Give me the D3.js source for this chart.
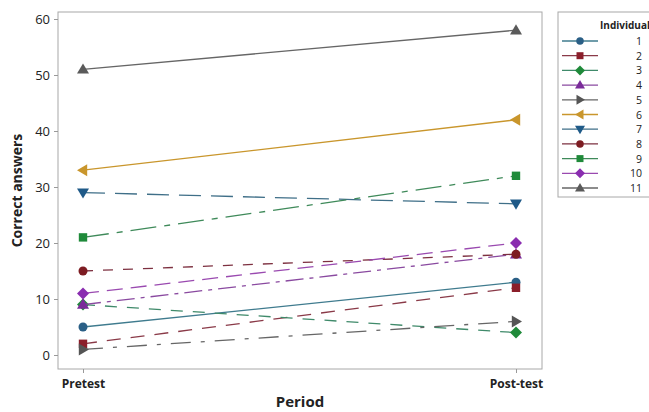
<!DOCTYPE html>
<html>
<head>
<meta charset="utf-8">
<script src="https://cdn.jsdelivr.net/npm/d3@7"></script>
<style>
  body { margin: 0; background: #fff; }
  text { font-family: "Open Sans", "DejaVu Sans", sans-serif; }
</style>
</head>
<body>
<svg id="chart" width="649" height="412"></svg>
<script>
const periods = ['Pretest', 'Post-test'];
const individuals = ['1', '2', '3', '4', '5', '6', '7', '8', '9', '10', '11'];
const pretest = [5, 2, 9, 9, 1, 33, 29, 15, 21, 11, 51];
const posttest = [13, 12, 4, 18, 6, 42, 27, 18, 32, 20, 58];
const yTicks = [0, 10, 20, 30, 40, 50, 60];

const colors = ['#2a5f86', '#8b1e2a', '#1f8a3a', '#7a2b9a', '#555555', '#c9962c',
                '#1f5a88', '#7d1c22', '#1f8a3a', '#8a2db0', '#5a5a5a'];
const lineColors = ['#3f7b8e', '#8a3a48', '#3f8a6a', '#8a4aa0', '#666666', '#c9962c',
                    '#3f6f88', '#7d3040', '#3f8a5a', '#9a4ab0', '#666666'];
const dashes = [null, '14,10', '12,10', '18,6,4,6', '20,10,4,10', null,
                '22,10', '10,10', '26,8,6,8', '16,8', null];
const shapes = ['circle', 'square', 'diamond', 'tri-up', 'tri-right', 'tri-left',
                'tri-down', 'circle', 'square', 'diamond', 'tri-up'];

const svg = d3.select('#chart');
const margin = {top: 12, right: 107, bottom: 43, left: 58};
const width = 649, height = 412;
const innerW = width - margin.left - margin.right;
const innerH = height - margin.top - margin.bottom;

const g = svg.append('g').attr('transform', `translate(${margin.left},${margin.top})`);

const x = d3.scalePoint().domain(periods).range([25, innerW - 26]);
const y = d3.scaleLinear().domain([0, 60]).range([343, 7]);

g.append('rect')
  .attr('width', innerW).attr('height', innerH)
  .attr('fill', 'none').attr('stroke', '#a8a8a8');

const yAxis = g.append('g').call(d3.axisLeft(y).tickValues(yTicks).tickSize(4).tickPadding(4));
yAxis.select('.domain').remove();
yAxis.selectAll('line').attr('stroke', '#999');
yAxis.selectAll('text').attr('font-size', 13).attr('fill', '#222');

const xAxis = g.append('g').attr('transform', `translate(0,${innerH})`)
  .call(d3.axisBottom(x).tickSize(4).tickPadding(6));
xAxis.select('.domain').remove();
xAxis.selectAll('line').attr('stroke', '#999');
xAxis.selectAll('text').attr('font-size', 12).attr('font-weight', 'bold').attr('fill', '#222');

svg.append('text')
  .attr('transform', `translate(22,${margin.top + innerH / 2}) rotate(-90)`)
  .attr('text-anchor', 'middle').attr('font-size', 14).attr('font-weight', 'bold')
  .attr('fill', '#222').text('Correct answers');

svg.append('text')
  .attr('x', margin.left + innerW / 2).attr('y', 407)
  .attr('text-anchor', 'middle').attr('font-size', 15).attr('font-weight', 'bold')
  .attr('fill', '#222').text('Period');

function marker(sel, shape, color, s) {
  let p;
  if (shape === 'circle') {
    return sel.append('circle').attr('r', s * 0.75).attr('fill', color);
  } else if (shape === 'square') {
    p = [[-s * 0.7, -s * 0.7], [s * 0.7, -s * 0.7], [s * 0.7, s * 0.7], [-s * 0.7, s * 0.7]];
  } else if (shape === 'diamond') {
    p = [[0, -s], [s, 0], [0, s], [-s, 0]];
  } else if (shape === 'tri-up') {
    p = [[0, -s], [s, s * 0.7], [-s, s * 0.7]];
  } else if (shape === 'tri-down') {
    p = [[0, s], [s, -s * 0.7], [-s, -s * 0.7]];
  } else if (shape === 'tri-right') {
    p = [[s, 0], [-s * 0.7, -s], [-s * 0.7, s]];
  } else {
    p = [[-s, 0], [s * 0.7, -s], [s * 0.7, s]];
  }
  return sel.append('path').attr('d', 'M' + p.join('L') + 'Z').attr('fill', color);
}

const series = individuals.map((id, i) => ({id, i, values: [pretest[i], posttest[i]]}));
const line = d3.line().x((d, j) => x(periods[j])).y(d => y(d));

series.forEach(s => {
  g.append('path')
    .attr('d', line(s.values))
    .attr('fill', 'none')
    .attr('stroke', lineColors[s.i])
    .attr('stroke-width', 1.3)
    .attr('stroke-dasharray', dashes[s.i]);
  s.values.forEach((v, j) => {
    const m = g.append('g').attr('transform', `translate(${x(periods[j])},${y(v)})`);
    marker(m, shapes[s.i], colors[s.i], 6);
  });
});

// legend
const lg = svg.append('g').attr('transform', 'translate(558,12)');
lg.append('rect').attr('width', 100).attr('height', 185)
  .attr('fill', 'none').attr('stroke', '#a8a8a8');
lg.append('text').attr('x', 42).attr('y', 17).attr('font-size', 10)
  .attr('font-weight', 'bold').attr('fill', '#222').text('Individual');
const ly = d3.scalePoint().domain(individuals).range([29, 176]);
series.forEach(s => {
  const row = lg.append('g').attr('transform', `translate(0,${ly(s.id)})`);
  row.append('line').attr('x1', 4).attr('x2', 40)
    .attr('stroke', lineColors[s.i]).attr('stroke-width', 1.3);
  const m = row.append('g').attr('transform', 'translate(22,0)');
  marker(m, shapes[s.i], colors[s.i], 5);
  row.append('text').attr('x', 84).attr('y', 4).attr('text-anchor', 'end')
    .attr('font-size', 10.5).attr('fill', '#222').text(s.id);
});
</script>
</body>
</html>
